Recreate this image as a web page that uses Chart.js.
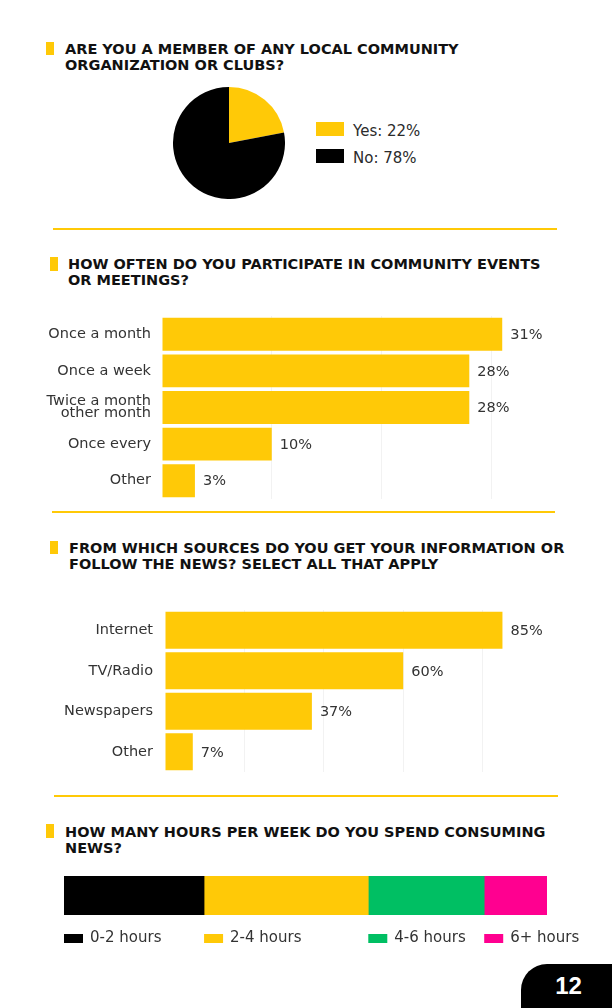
<!DOCTYPE html>
<html>
<head>
<meta charset="utf-8">
<script src="https://cdn.jsdelivr.net/npm/chart.js@4.4.1/dist/chart.umd.min.js"></script>
<style>
  html, body { margin: 0; padding: 0; background: #fff; }
  body { width: 612px; height: 1008px; position: relative; overflow: hidden; font-family: "DejaVu Sans", sans-serif; color: #2b2b2b; }
  .mark { position: absolute; width: 8px; height: 13px; background: #ffc907; }
  .title { position: absolute; font-family: "DejaVu Sans", sans-serif; font-weight: 700; font-size: 14.5px; line-height: 16px; color: #111; white-space: nowrap; }
  .rule { position: absolute; height: 2px; background: #ffc907; }
  canvas { position: absolute; }
  .key { position: absolute; left: 316px; font-size: 15px; line-height: 14px; white-space: nowrap; }
  .key span { position: absolute; left: 0; top: 0; width: 28px; height: 14px; }
  .key b { position: absolute; left: 37px; top: 2px; font-weight: 400; }
  .page { position: absolute; left: 521px; top: 964px; width: 91px; height: 44px; background: #000; border-top-left-radius: 26px; color: #fff; font: 700 24px "Liberation Sans", sans-serif; text-align: center; line-height: 44px; padding-left: 4px; box-sizing: border-box; }
</style>
</head>
<body>

<div class="mark" style="left:46px;top:42px"></div>
<div class="title" style="left:65px;top:41px">ARE YOU A MEMBER OF ANY LOCAL COMMUNITY<br>ORGANIZATION OR CLUBS?</div>
<canvas id="member" width="112" height="112" style="left:173px;top:87px"></canvas>
<div id="memberKey"></div>
<div class="rule" style="left:53px;top:228px;width:504px"></div>

<div class="mark" style="left:50px;top:257px;height:14px"></div>
<div class="title" style="left:68px;top:255.5px">HOW OFTEN DO YOU PARTICIPATE IN COMMUNITY EVENTS<br>OR MEETINGS?</div>
<canvas id="freq" width="612" height="183" style="left:0;top:316px"></canvas>
<div class="rule" style="left:52px;top:511px;width:503px"></div>

<div class="mark" style="left:50px;top:541px"></div>
<div class="title" style="left:69px;top:539.5px">FROM WHICH SOURCES DO YOU GET YOUR INFORMATION OR<br>FOLLOW THE NEWS? SELECT ALL THAT APPLY</div>
<canvas id="sources" width="612" height="162" style="left:0;top:610px"></canvas>
<div class="rule" style="left:54px;top:795px;width:504px"></div>

<div class="mark" style="left:46px;top:824px;height:14px"></div>
<div class="title" style="left:65px;top:823.5px">HOW MANY HOURS PER WEEK DO YOU SPEND CONSUMING<br>NEWS?</div>
<canvas id="hours" width="612" height="90" style="left:0;top:870px"></canvas>

<div class="page">12</div>

<script>
// survey answers
const memberLabels = ["Yes", "No"];
const memberValues = [22, 78];
const memberColors = ["#ffc907", "#000000"];

const freqLabels = ["Once a month", "Once a week", ["Twice a month", "other month"], "Once every", "Other"];
const freqValues = [31, 28, 28, 10, 3];

const sourceLabels = ["Internet", "TV/Radio", "Newspapers", "Other"];
const sourceValues = [85, 60, 37, 7];

const hourLabels = ["0-2 hours", "2-4 hours", "4-6 hours", "6+ hours"];
const hourValues = [29, 34, 24, 13];
const hourColors = ["#000000", "#ffc907", "#00bf63", "#ff0090"];

const YELLOW = "#ffc907";
const TEXT = "#333333";
const GRID = "rgba(0,0,0,0.05)";
const FONT = "DejaVu Sans";

// pie + its legend
new Chart(document.getElementById("member"), {
  type: "pie",
  data: {
    labels: memberLabels,
    datasets: [{ data: memberValues, backgroundColor: memberColors, borderWidth: 0 }],
  },
  options: {
    responsive: false,
    animation: false,
    plugins: { legend: { display: false }, tooltip: { enabled: false } },
  },
});

const memberKey = document.getElementById("memberKey");
memberLabels.forEach((label, i) => {
  const div = document.createElement("div");
  div.className = "key";
  div.style.top = 122 + i * 27 + "px";
  div.innerHTML = `<span style="background:${memberColors[i]}"></span><b>${label}: ${memberValues[i]}%</b>`;
  memberKey.appendChild(div);
});

// "31%" etc. at the end of each bar
const valueLabels = {
  id: "valueLabels",
  afterDatasetsDraw(chart) {
    const { ctx } = chart;
    const values = chart.data.datasets[0].data;
    ctx.save();
    ctx.font = `14.5px "${FONT}"`;
    ctx.fillStyle = TEXT;
    ctx.textBaseline = "middle";
    chart.getDatasetMeta(0).data.forEach((bar, i) => {
      ctx.fillText(values[i] + "%", bar.x + 8, bar.y + 1);
    });
    ctx.restore();
  },
};

const hbar = (id, labels, values, { left, right, max, step, barPct, pad }) =>
  new Chart(document.getElementById(id), {
    type: "bar",
    data: {
      labels,
      datasets: [{ data: values, backgroundColor: YELLOW, categoryPercentage: 1, barPercentage: barPct }],
    },
    options: {
      indexAxis: "y",
      responsive: false,
      animation: false,
      layout: { padding: { right } },
      plugins: { legend: { display: false }, tooltip: { enabled: false } },
      scales: {
        x: {
          min: 0,
          max,
          ticks: { display: false, stepSize: step },
          border: { display: false },
          grid: {
            drawTicks: false,
            color: (c) => (c.tick && c.tick.value > 0 && c.tick.value < max ? GRID : "transparent"),
          },
        },
        y: {
          // fixed label column, no extra room above/below the bars
          afterFit: (s) => {
            s.width = left;
            s.paddingTop = 0;
            s.paddingBottom = 0;
          },
          grid: { display: false, drawTicks: false },
          border: { display: false },
          ticks: { padding: pad, color: TEXT, font: { family: FONT, size: 14.5, lineHeight: 0.85 } },
        },
      },
    },
    plugins: [valueLabels],
  });

hbar("freq", freqLabels, freqValues, { left: 162, right: 11, max: 40, step: 10, barPct: 0.9, pad: 11 });
hbar("sources", sourceLabels, sourceValues, { left: 165, right: 50, max: 100, step: 20, barPct: 0.914, pad: 12 });

// stacked bar with legend under each segment start
const hourLegend = {
  id: "hourLegend",
  afterDraw(chart) {
    const { ctx, chartArea } = chart;
    const x = chart.scales.x;
    let start = 0;
    ctx.save();
    ctx.font = `15px "${FONT}"`;
    ctx.textBaseline = "middle";
    chart.data.datasets.forEach((ds) => {
      const px = x.getPixelForValue(start);
      ctx.fillStyle = ds.backgroundColor;
      ctx.fillRect(px, chartArea.bottom + 19, 19, 9);
      ctx.fillStyle = TEXT;
      ctx.fillText(ds.label, px + 26, chartArea.bottom + 23.5);
      start += ds.data[0];
    });
    ctx.restore();
  },
};

new Chart(document.getElementById("hours"), {
  type: "bar",
  data: {
    labels: [""],
    datasets: hourLabels.map((label, i) => ({
      label,
      data: [hourValues[i]],
      backgroundColor: hourColors[i],
      categoryPercentage: 1,
      barPercentage: 1,
    })),
  },
  options: {
    indexAxis: "y",
    responsive: false,
    animation: false,
    layout: { padding: { left: 64, right: 65, top: 6, bottom: 45 } },
    plugins: { legend: { display: false }, tooltip: { enabled: false } },
    scales: {
      x: { stacked: true, display: false, min: 0, max: 100 },
      y: { stacked: true, display: false },
    },
  },
  plugins: [hourLegend],
});
</script>
</body>
</html>
